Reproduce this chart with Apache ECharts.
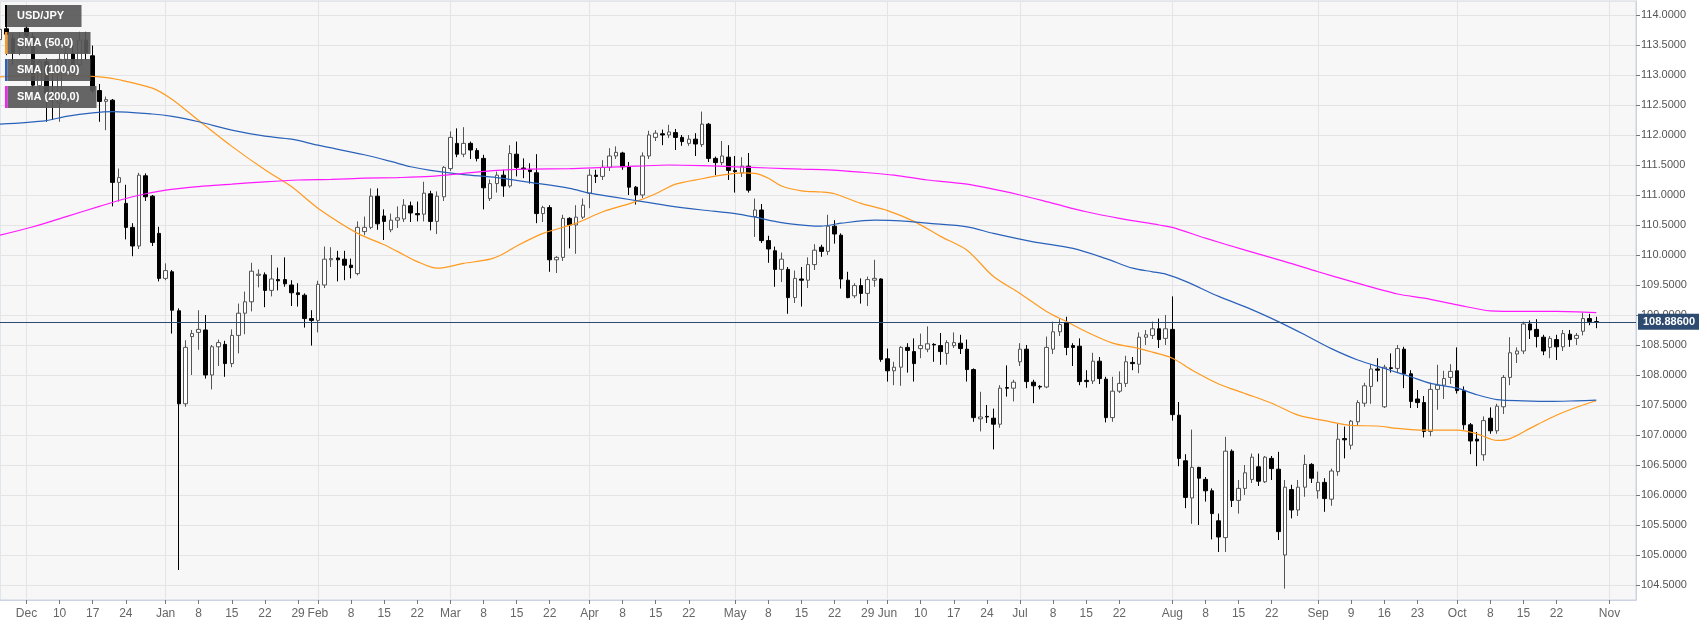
<!DOCTYPE html>
<html>
<head>
<meta charset="utf-8">
<title>USD/JPY daily</title>
<script src="https://cdn.jsdelivr.net/npm/echarts@6/dist/echarts.min.js"></script>
<style>
  html, body { margin: 0; padding: 0; background: #fff; }
  #chart { width: 1707px; height: 627px; }
</style>
</head>
<body>
<div id="chart"></div>
<script>
// weekdays on the axis, starting here
const firstDay = '2018-11-27'
const dayCount = 248

// USD/JPY daily candles from 2018-11-27, one per weekday: [open, close, low, high]
const candles = [
  // Nov / Dec 2018
  [113.59, 113.76, 113.45, 113.83], [113.77, 113.68, 113.33, 114.03], [113.61, 113.37, 113.17, 113.69],
  [113.43, 113.57, 113.33, 113.70], [113.78, 113.65, 113.45, 113.84], [113.64, 112.83, 112.78, 113.70],
  [112.82, 113.22, 112.75, 113.25], [113.22, 112.69, 112.22, 113.28], [112.70, 112.66, 112.25, 113.08],
  [112.53, 113.26, 112.22, 113.35], [113.26, 113.36, 113.05, 113.55], [113.36, 113.17, 113.10, 113.50],
  [113.17, 113.58, 113.12, 113.72], [113.58, 113.37, 113.25, 113.72], [113.32, 112.74, 112.70, 113.49],
  [112.74, 112.56, 112.22, 112.85], [112.56, 112.59, 112.08, 112.64], [112.58, 111.21, 110.81, 112.60],
  [111.21, 111.29, 110.89, 111.44], [110.86, 110.46, 110.26, 111.17], [110.46, 110.15, 109.98, 110.53],
  [110.15, 111.33, 110.10, 111.37], [111.32, 110.97, 110.90, 111.36], [110.98, 110.21, 110.15, 111.00],
  [110.36, 109.61, 109.56, 110.47],
  // Jan 2019
  [109.61, 109.74, 109.58, 109.86], [109.72, 109.08, 108.69, 109.75], [109.07, 107.52, 104.75, 109.11],
  [107.52, 108.46, 107.47, 108.58], [108.64, 108.69, 108.00, 108.75], [108.71, 108.76, 108.42, 109.08],
  [108.75, 108.00, 107.94, 109.00], [108.00, 108.47, 107.76, 108.50], [108.47, 108.54, 108.15, 108.59],
  [108.51, 108.19, 107.97, 108.57], [108.19, 108.66, 108.13, 108.76], [108.66, 109.03, 108.36, 109.19],
  [109.03, 109.22, 108.68, 109.39], [109.22, 109.73, 109.06, 109.87], [109.66, 109.68, 109.46, 109.76],
  [109.67, 109.41, 109.13, 109.71], [109.41, 109.60, 109.31, 110.00], [109.59, 109.57, 109.41, 109.79],
  [109.59, 109.52, 109.47, 109.96], [109.50, 109.37, 109.15, 109.58], [109.37, 109.34, 109.14, 109.53],
  [109.33, 108.94, 108.79, 109.36], [108.94, 108.91, 108.49, 109.08],
  // Feb
  [108.91, 109.51, 108.71, 109.57], [109.50, 109.93, 109.45, 110.14], [109.92, 109.94, 109.80, 110.13],
  [109.95, 109.92, 109.56, 110.07], [109.93, 109.83, 109.58, 110.07], [109.83, 109.79, 109.61, 109.94],
  [109.69, 110.46, 109.66, 110.56], [110.39, 110.46, 110.33, 110.64], [110.46, 110.98, 110.43, 111.11],
  [110.98, 110.52, 110.42, 111.11], [110.65, 110.56, 110.25, 110.76], [110.42, 110.58, 110.38, 110.69],
  [110.58, 110.62, 110.45, 110.81], [110.60, 110.83, 110.55, 110.93], [110.82, 110.70, 110.55, 110.89],
  [110.69, 110.67, 110.56, 110.89], [110.68, 111.03, 110.56, 111.22], [111.02, 110.56, 110.41, 111.07],
  [110.56, 110.98, 110.35, 111.06], [110.97, 111.46, 110.90, 111.48],
  // Mar
  [111.44, 111.96, 111.40, 112.06], [111.86, 111.68, 111.63, 112.11], [111.68, 111.86, 111.63, 112.13],
  [111.86, 111.75, 111.60, 111.89], [111.74, 111.61, 111.56, 111.78], [111.61, 111.12, 110.76, 111.67],
  [110.94, 111.19, 110.90, 111.26], [111.19, 111.33, 111.04, 111.39], [111.33, 111.15, 110.97, 111.42],
  [111.15, 111.69, 111.12, 111.83], [111.68, 111.46, 111.31, 111.89], [111.45, 111.43, 111.28, 111.61],
  [111.42, 111.39, 111.19, 111.53], [111.37, 110.69, 110.53, 111.68], [110.69, 110.79, 110.55, 110.82],
  [110.79, 109.92, 109.72, 110.83], [109.92, 109.96, 109.70, 109.98], [109.96, 110.61, 109.90, 110.67],
  [110.61, 110.50, 110.11, 110.63], [110.50, 110.63, 110.02, 110.83], [110.63, 110.83, 110.60, 110.94],
  // Apr
  [111.03, 111.33, 110.78, 111.43], [111.33, 111.31, 111.20, 111.42], [111.31, 111.46, 111.25, 111.58],
  [111.46, 111.65, 111.40, 111.78], [111.65, 111.71, 111.60, 111.81], [111.70, 111.47, 111.42, 111.72],
  [111.47, 111.13, 111.00, 111.55], [111.13, 111.00, 110.84, 111.15], [111.00, 111.65, 110.95, 111.71],
  [111.65, 112.00, 111.60, 112.07], [111.96, 112.03, 111.90, 112.08], [112.02, 112.00, 111.83, 112.09],
  [112.00, 112.05, 111.95, 112.17], [112.04, 111.96, 111.75, 112.10], [111.96, 111.89, 111.82, 112.00],
  [111.86, 111.93, 111.82, 112.00], [111.93, 111.85, 111.65, 112.03], [111.84, 112.18, 111.80, 112.39],
  [112.18, 111.61, 111.55, 112.20], [111.61, 111.54, 111.33, 111.64], [111.54, 111.65, 111.50, 111.90],
  [111.63, 111.41, 111.25, 111.83],
  // May
  [111.41, 111.39, 111.04, 111.65], [111.37, 111.48, 111.30, 111.63], [111.48, 111.08, 111.04, 111.70],
  [110.64, 110.75, 110.30, 110.94], [110.75, 110.24, 110.20, 110.85], [110.24, 110.10, 109.87, 110.32],
  [110.07, 109.76, 109.47, 110.14], [109.76, 109.93, 109.55, 110.04], [109.76, 109.29, 109.02, 109.80],
  [109.29, 109.61, 109.20, 109.74], [109.60, 109.58, 109.14, 109.80], [109.58, 109.84, 109.45, 109.96],
  [109.84, 110.08, 109.75, 110.18], [110.13, 110.06, 109.97, 110.17], [110.06, 110.48, 110.00, 110.67],
  [110.48, 110.35, 110.19, 110.58], [110.33, 109.60, 109.44, 110.36], [109.58, 109.29, 109.28, 109.72],
  [109.32, 109.49, 109.28, 109.53], [109.49, 109.36, 109.19, 109.61], [109.36, 109.59, 109.15, 109.64],
  [109.58, 109.61, 109.47, 109.92], [109.60, 108.26, 108.22, 109.61],
  // Jun
  [108.27, 108.07, 107.89, 108.44], [108.07, 108.13, 107.83, 108.22], [108.13, 108.46, 107.82, 108.48],
  [108.46, 108.41, 108.04, 108.53], [108.39, 108.19, 107.89, 108.61], [108.44, 108.49, 108.28, 108.69],
  [108.43, 108.52, 108.38, 108.81], [108.51, 108.50, 108.22, 108.53], [108.49, 108.39, 108.17, 108.70],
  [108.36, 108.54, 108.17, 108.58], [108.49, 108.54, 108.45, 108.71], [108.53, 108.44, 108.35, 108.67],
  [108.43, 108.09, 107.89, 108.59], [108.09, 107.29, 107.22, 108.11], [107.27, 107.30, 107.06, 107.72],
  [107.31, 107.30, 107.20, 107.50], [107.28, 107.18, 106.76, 107.44], [107.18, 107.78, 107.12, 107.83],
  [107.79, 107.78, 107.64, 108.16], [107.78, 107.88, 107.56, 107.92],
  // Jul
  [108.22, 108.43, 108.15, 108.53], [108.43, 107.89, 107.78, 108.50], [107.88, 107.82, 107.53, 107.92],
  [107.81, 107.80, 107.76, 107.83], [107.80, 108.46, 107.78, 108.64], [108.43, 108.72, 108.35, 108.89],
  [108.72, 108.84, 108.65, 108.93], [108.87, 108.46, 108.33, 108.97], [108.49, 108.46, 108.15, 108.53],
  [108.48, 107.89, 107.83, 108.61], [107.91, 107.89, 107.79, 108.08], [107.90, 108.23, 107.85, 108.37],
  [108.23, 107.94, 107.85, 108.30], [107.93, 107.29, 107.21, 107.97], [107.29, 107.73, 107.22, 107.97],
  [107.73, 107.86, 107.70, 108.06], [107.86, 108.22, 107.80, 108.32], [108.21, 108.19, 108.08, 108.30],
  [108.18, 108.63, 108.03, 108.71], [108.63, 108.67, 108.50, 108.75], [108.66, 108.77, 108.60, 108.89],
  [108.77, 108.59, 108.45, 108.94], [108.61, 108.77, 108.50, 109.00],
  // Aug
  [108.76, 107.34, 107.24, 109.31], [107.33, 106.61, 106.48, 107.55], [106.57, 105.96, 105.78, 106.68],
  [105.95, 106.46, 105.52, 107.09], [106.46, 106.28, 105.50, 106.47], [106.26, 106.07, 105.89, 106.30],
  [106.07, 105.69, 105.26, 106.11], [105.57, 105.30, 105.05, 105.69], [105.29, 106.73, 105.05, 106.97],
  [106.73, 105.91, 105.80, 106.76], [105.91, 106.11, 105.69, 106.25], [106.11, 106.37, 106.00, 106.50],
  [106.26, 106.63, 106.20, 106.69], [106.47, 106.23, 106.15, 106.69], [106.22, 106.63, 106.20, 106.65],
  [106.61, 106.44, 106.25, 106.65], [106.43, 105.39, 105.25, 106.72], [105.00, 106.13, 104.44, 106.25],
  [106.09, 105.75, 105.61, 106.17], [105.75, 106.13, 105.65, 106.25], [106.13, 106.51, 105.97, 106.67],
  [106.51, 106.28, 106.20, 106.53],
  // Sep
  [106.07, 106.21, 105.94, 106.39], [106.21, 105.94, 105.72, 106.28], [105.93, 106.40, 105.82, 106.44],
  [106.39, 106.93, 106.32, 107.19], [106.94, 106.92, 106.61, 107.14], [106.83, 107.23, 106.76, 107.25],
  [107.22, 107.54, 107.15, 107.58], [107.53, 107.82, 107.47, 107.87], [107.81, 108.10, 107.52, 108.18],
  [108.10, 108.08, 107.89, 108.28], [107.47, 108.13, 107.45, 108.17], [108.12, 108.11, 108.04, 108.36],
  [108.11, 108.44, 108.05, 108.50], [108.43, 108.02, 107.78, 108.47], [108.02, 107.56, 107.45, 108.08],
  [107.60, 107.54, 107.45, 107.75], [107.54, 107.06, 106.96, 107.65], [107.06, 107.76, 106.98, 107.87],
  [107.76, 107.83, 107.42, 108.17], [107.83, 107.94, 107.60, 108.07], [107.96, 108.06, 107.85, 108.18],
  // Oct
  [108.07, 107.74, 107.69, 108.46], [107.74, 107.17, 107.09, 107.81], [107.17, 106.90, 106.68, 107.20],
  [106.93, 106.90, 106.48, 107.05], [106.67, 107.24, 106.57, 107.31], [107.28, 107.07, 107.02, 107.46],
  [107.07, 107.48, 107.02, 107.52], [107.47, 107.96, 107.35, 108.00], [107.96, 108.37, 107.83, 108.63],
  [108.35, 108.40, 108.20, 108.46], [108.40, 108.85, 108.35, 108.89], [108.85, 108.75, 108.60, 108.91],
  [108.76, 108.64, 108.46, 108.93], [108.63, 108.40, 108.33, 108.67], [108.46, 108.61, 108.28, 108.65],
  [108.59, 108.47, 108.25, 108.67], [108.47, 108.69, 108.40, 108.75], [108.68, 108.59, 108.47, 108.75],
  [108.61, 108.66, 108.50, 108.70], [108.73, 108.94, 108.66, 109.04], [108.94, 108.89, 108.83, 109.02],
  [108.89, 108.886, 108.78, 108.97]
]

const lastPrice = 108.886

// moving averages: [weekday index, value]
const sma50 = [
  [0, 112.97], [8, 113.0], [15, 112.97], [18, 112.92], [23, 112.78], [26, 112.59], [30, 112.24],
  [35, 111.81], [40, 111.42], [44, 111.14], [48, 110.78], [54, 110.36], [58, 110.17], [60, 110.06],
  [63, 109.89], [66, 109.78], [70, 109.86], [74, 109.93], [76, 110.02], [78, 110.15], [82, 110.36],
  [87, 110.53], [91, 110.72], [96, 110.89], [99, 111.02], [102, 111.18], [106, 111.27], [109, 111.33],
  [112, 111.37], [114, 111.36], [116, 111.28], [118, 111.15], [121, 111.07], [124, 111.05], [126, 111.02],
  [130, 110.86], [134, 110.74], [138, 110.56], [142, 110.31], [146, 110.08], [150, 109.64], [154, 109.36],
  [158, 109.06], [161, 108.89], [164, 108.72], [168, 108.53], [172, 108.44], [174, 108.38], [177, 108.28],
  [180, 108.08], [184, 107.85], [188, 107.69], [192, 107.53], [196, 107.33], [200, 107.24], [204, 107.16],
  [208, 107.15], [211, 107.11], [215, 107.08], [220, 107.08], [223, 107.02], [226, 106.91], [228, 106.94],
  [231, 107.11], [234, 107.28], [237, 107.42], [239, 107.50], [241, 107.57]
]
const sma100 = [
  [0, 112.18], [7, 112.24], [10, 112.31], [14, 112.37], [17, 112.39], [23, 112.35], [26, 112.31],
  [30, 112.22], [35, 112.08], [40, 111.98], [44, 111.93], [48, 111.83], [55, 111.67], [59, 111.56],
  [62, 111.47], [65, 111.41], [70, 111.34], [75, 111.29], [80, 111.21], [86, 111.11], [89, 111.03],
  [93, 110.96], [97, 110.89], [101, 110.82], [106, 110.75], [111, 110.69], [114, 110.63], [118, 110.54],
  [122, 110.49], [124, 110.48], [127, 110.53], [132, 110.58], [136, 110.57], [140, 110.53], [146, 110.47],
  [150, 110.36], [156, 110.22], [162, 110.11], [167, 109.94], [171, 109.78], [174, 109.72], [176, 109.68],
  [179, 109.56], [184, 109.31], [189, 109.09], [193, 108.89], [197, 108.67], [201, 108.44], [205, 108.25],
  [209, 108.11], [211, 108.04], [213, 107.97], [216, 107.86], [220, 107.78], [223, 107.67], [226, 107.59],
  [230, 107.57], [234, 107.56], [238, 107.57], [241, 107.58]
]
const sma200 = [
  [0, 110.33], [5, 110.47], [10, 110.64], [15, 110.81], [20, 110.97], [25, 111.08], [30, 111.14],
  [35, 111.18], [40, 111.22], [45, 111.25], [50, 111.26], [55, 111.28], [60, 111.29], [65, 111.31],
  [70, 111.36], [75, 111.41], [80, 111.43], [86, 111.44], [91, 111.46], [96, 111.48], [101, 111.50],
  [106, 111.49], [111, 111.47], [116, 111.45], [121, 111.43], [125, 111.42], [130, 111.38], [135, 111.33],
  [140, 111.25], [146, 111.18], [154, 111.00], [159, 110.86], [164, 110.72], [169, 110.61], [175, 110.50],
  [177, 110.46], [182, 110.28], [188, 110.08], [194, 109.89], [199, 109.72], [204, 109.56], [211, 109.35],
  [215, 109.28], [220, 109.17], [225, 109.07], [230, 109.06], [235, 109.06], [241, 109.04]
]

// labelled days on the time axis
const axisTicks = [
  ['2018-12-03', 'Dec'], ['2018-12-10', '10'], ['2018-12-17', '17'], ['2018-12-24', '24'],
  ['2019-01-01', 'Jan'], ['2019-01-08', '8'], ['2019-01-15', '15'], ['2019-01-22', '22'], ['2019-01-29', '29'],
  ['2019-02-01', 'Feb'], ['2019-02-08', '8'], ['2019-02-15', '15'], ['2019-02-22', '22'],
  ['2019-03-01', 'Mar'], ['2019-03-08', '8'], ['2019-03-15', '15'], ['2019-03-22', '22'],
  ['2019-04-01', 'Apr'], ['2019-04-08', '8'], ['2019-04-15', '15'], ['2019-04-22', '22'],
  ['2019-05-01', 'May'], ['2019-05-08', '8'], ['2019-05-15', '15'], ['2019-05-22', '22'], ['2019-05-29', '29'],
  ['2019-06-03', 'Jun'], ['2019-06-10', '10'], ['2019-06-17', '17'], ['2019-06-24', '24'],
  ['2019-07-01', 'Jul'], ['2019-07-08', '8'], ['2019-07-15', '15'], ['2019-07-22', '22'],
  ['2019-08-01', 'Aug'], ['2019-08-08', '8'], ['2019-08-15', '15'], ['2019-08-22', '22'],
  ['2019-09-02', 'Sep'], ['2019-09-09', '9'], ['2019-09-16', '16'], ['2019-09-23', '23'],
  ['2019-10-01', 'Oct'], ['2019-10-08', '8'], ['2019-10-15', '15'], ['2019-10-22', '22'],
  ['2019-11-01', 'Nov']
]

const legendItems = [
  ['USD/JPY', '#000000'],
  ['SMA (50,0)', '#ff9a1f'],
  ['SMA (100,0)', '#2a62bb'],
  ['SMA (200,0)', '#ff1aff']
]

const yMin = 104.25
const yMax = 114.233

// weekday categories
const days = []
const d = new Date(firstDay + 'T00:00:00Z')
while (days.length < dayCount) {
  const wd = d.getUTCDay()
  if (wd !== 0 && wd !== 6) days.push(d.toISOString().slice(0, 10))
  d.setUTCDate(d.getUTCDate() + 1)
}
const tickText = {}
axisTicks.forEach(t => { tickText[t[0]] = t[1] })
const isTick = (i, v) => v in tickText
const isMonth = (i, v) => v in tickText && isNaN(Number(tickText[v]))

const chart = echarts.init(document.getElementById('chart'))
const boxWidths = [74, 83, 83, 89]
const graphics = []
legendItems.forEach((item, k) => {
  const top = 5 + k * 27
  graphics.push({ type: 'rect', left: 5, top: top, z: 100, shape: { width: 2.5, height: 22 }, style: { fill: item[1] } })
  graphics.push({ type: 'rect', left: 7.5, top: top, z: 100, shape: { width: boxWidths[k], height: 22 }, style: { fill: 'rgba(88,88,88,0.92)' } })
  graphics.push({ type: 'text', left: 17, top: top + 5.5, z: 101, style: { text: item[0], fill: '#fff', font: 'bold 11px "Liberation Sans", Arial, sans-serif' } })
})

const option = {
  animation: false,
  backgroundColor: '#ffffff',
  grid: {
    left: 0, right: 71, top: 1, bottom: 27,
    show: true, backgroundColor: '#f7f7f7', borderColor: '#ccd3e3', borderWidth: 1
  },
  xAxis: {
    type: 'category',
    data: days,
    boundaryGap: false,
    axisLine: { lineStyle: { color: '#ccd3e3' } },
    axisTick: { interval: isTick, length: 4, lineStyle: { color: '#777' } },
    axisLabel: {
      interval: isTick,
      formatter: v => tickText[v] || '',
      color: '#666',
      fontSize: 12,
      fontFamily: '"Liberation Sans Narrow", "Liberation Sans", Arial, sans-serif',
      margin: 8
    },
    splitLine: { show: true, interval: isMonth, lineStyle: { color: '#e4e4e4' } }
  },
  yAxis: {
    type: 'value',
    position: 'right',
    min: yMin,
    max: yMax,
    splitNumber: 20,
    minInterval: 0.5,
    maxInterval: 0.5,
    axisLine: { show: true, lineStyle: { color: '#ccd3e3' } },
    axisTick: { show: true, length: 4, lineStyle: { color: '#777' } },
    axisLabel: {
      showMinLabel: false,
      showMaxLabel: false,
      formatter: v => v.toFixed(4),
      color: '#555',
      fontSize: 11,
      fontFamily: '"Liberation Sans", Arial, sans-serif',
      margin: 5
    },
    splitLine: { lineStyle: { color: '#e4e4e4' } }
  },
  graphic: graphics,
  series: [
    {
      type: 'candlestick',
      data: candles,
      barWidth: 4,
      itemStyle: { color: '#ffffff', color0: '#000000', borderColor: '#555555', borderColor0: '#000000', borderWidth: 1 },
      markLine: {
        silent: true,
        symbol: ['none', 'none'],
        precision: 5,
        lineStyle: { color: '#2d4a70', width: 1, type: 'solid' },
        label: {
          position: 'end',
          distance: 2,
          formatter: () => lastPrice.toFixed(5),
          color: '#fff',
          backgroundColor: '#2d4a70',
          padding: [3, 4, 2, 5],
          fontSize: 11,
          fontWeight: 'bold',
          fontFamily: '"Liberation Sans", Arial, sans-serif'
        },
        data: [{ yAxis: lastPrice }]
      }
    },
    { type: 'line', data: sma50, showSymbol: false, smooth: 0.3, z: 3, lineStyle: { color: legendItems[1][1], width: 1.2 } },
    { type: 'line', data: sma100, showSymbol: false, smooth: 0.3, z: 3, lineStyle: { color: legendItems[2][1], width: 1.2 } },
    { type: 'line', data: sma200, showSymbol: false, smooth: 0.3, z: 3, lineStyle: { color: legendItems[3][1], width: 1.2 } }
  ]
}
chart.setOption(option)
</script>
</body>
</html>
